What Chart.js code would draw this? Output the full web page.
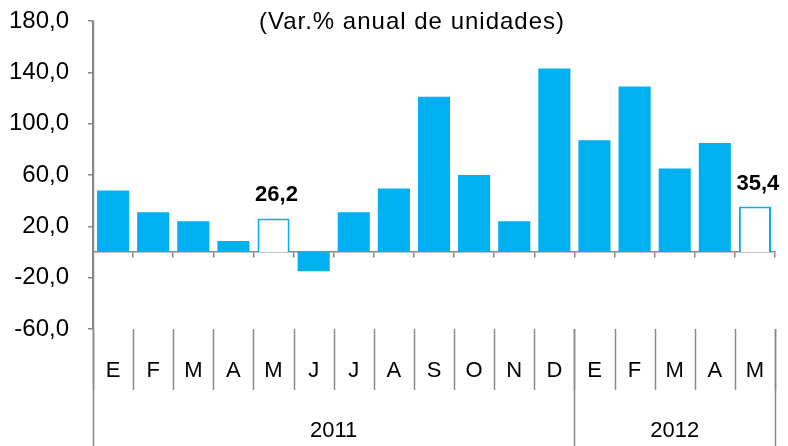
<!DOCTYPE html>
<html>
<head>
<meta charset="utf-8">
<script src="https://cdn.jsdelivr.net/npm/chart.js@4"></script>
<style>
  body { margin: 0; background: #fff; }
  #chart { display: block; }
</style>
</head>
<body>
<canvas id="chart" width="788" height="446"></canvas>
<script>
const months = ["E", "F", "M", "A", "M", "J", "J", "A", "S", "O", "N", "D", "E", "F", "M", "A", "M"];
const values = [48, 31, 24, 8.5, 26.2, -15, 31, 49.5, 121, 60, 24, 143, 87, 129, 65, 85, 35.4];
const years = ["2011", "2012"];
const yearSpans = [12, 5]; // months per year
const highlighted = [4, 16]; // outlined bars with label
const yTicks = [-60, -20, 20, 60, 100, 140, 180];

const blue = "#00B0F0";
const gray = "#898989";
const font = "Liberation Sans, Arial, sans-serif";

const lowerAxis = {
  id: "lowerAxis",
  afterDraw(chart) {
    const ctx = chart.ctx;
    const x = chart.scales.x;
    const area = chart.chartArea;
    const step = area.width / months.length;
    const top = area.bottom;
    ctx.save();
    ctx.strokeStyle = gray;
    ctx.lineWidth = 1.5;

    // month separators
    for (let i = 0; i <= months.length; i++) {
      const px = Math.round(x.getPixelForValue(i) - step / 2) + 0.5;
      ctx.beginPath();
      ctx.moveTo(px, top);
      ctx.lineTo(px, 390);
      ctx.stroke();
    }
    // year separators + axis extension
    let start = 0;
    const bounds = [0];
    yearSpans.forEach(n => { start += n; bounds.push(start); });
    bounds.forEach(b => {
      const px = Math.round(x.getPixelForValue(b) - step / 2) + 0.5;
      ctx.beginPath();
      ctx.moveTo(px, b === 0 ? area.top : top);
      ctx.lineTo(px, 446);
      ctx.stroke();
    });

    ctx.fillStyle = "#000";
    ctx.textAlign = "center";
    ctx.textBaseline = "middle";
    ctx.font = "22px " + font;
    months.forEach((m, i) => ctx.fillText(m, x.getPixelForValue(i), 371));
    years.forEach((y, i) => {
      const a = x.getPixelForValue(bounds[i]) - step / 2;
      const b = x.getPixelForValue(bounds[i + 1]) - step / 2;
      ctx.fillText(y, (a + b) / 2, 431);
    });

    // data labels on the highlighted bars
    ctx.font = "bold 22px " + font;
    ctx.textBaseline = "alphabetic";
    highlighted.forEach(i => {
      const bar = chart.getDatasetMeta(0).data[i];
      ctx.fillText(values[i].toFixed(1).replace(".", ","), bar.x + 3, bar.y - 17);
    });

    // title
    ctx.font = "24px " + font;
    ctx.letterSpacing = "1px";
    ctx.textBaseline = "middle";
    ctx.fillText("(Var.% anual de unidades)", 412, 22);
    ctx.restore();
  }
};

new Chart(document.getElementById("chart"), {
  type: "bar",
  data: {
    labels: months,
    datasets: [{
      data: values,
      backgroundColor: values.map((v, i) => highlighted.includes(i) ? "#fff" : blue),
      borderColor: blue,
      borderWidth: values.map((v, i) => highlighted.includes(i) ? 2 : 0),
      barPercentage: 0.8,
      categoryPercentage: 1
    }]
  },
  options: {
    responsive: false,
    animation: false,
    devicePixelRatio: 1,
    layout: { padding: { top: 21, left: 10, right: 13, bottom: 117 } },
    plugins: { legend: { display: false }, tooltip: { enabled: false }, title: { display: false } },
    scales: {
      x: {
        position: { y: 0 },
        grid: { offset: true, drawOnChartArea: false, tickLength: 5, color: gray, lineWidth: 1.5 },
        border: { display: true, color: gray, width: 1.5 },
        ticks: { display: false }
      },
      y: {
        min: -60,
        max: 180,
        afterBuildTicks: axis => { axis.ticks = yTicks.map(v => ({ value: v })); },
        afterFit: axis => { axis.width = 83; axis.paddingTop = 0; axis.paddingBottom = 0; },
        grid: { drawOnChartArea: false, tickLength: 5, color: gray, lineWidth: 1.5 },
        border: { display: true, color: gray, width: 1.5 },
        ticks: {
          padding: 19,
          color: "#000",
          font: { family: font, size: 24 },
          callback: v => v.toFixed(1).replace(".", ",")
        }
      }
    }
  },
  plugins: [lowerAxis]
});
</script>
</body>
</html>
